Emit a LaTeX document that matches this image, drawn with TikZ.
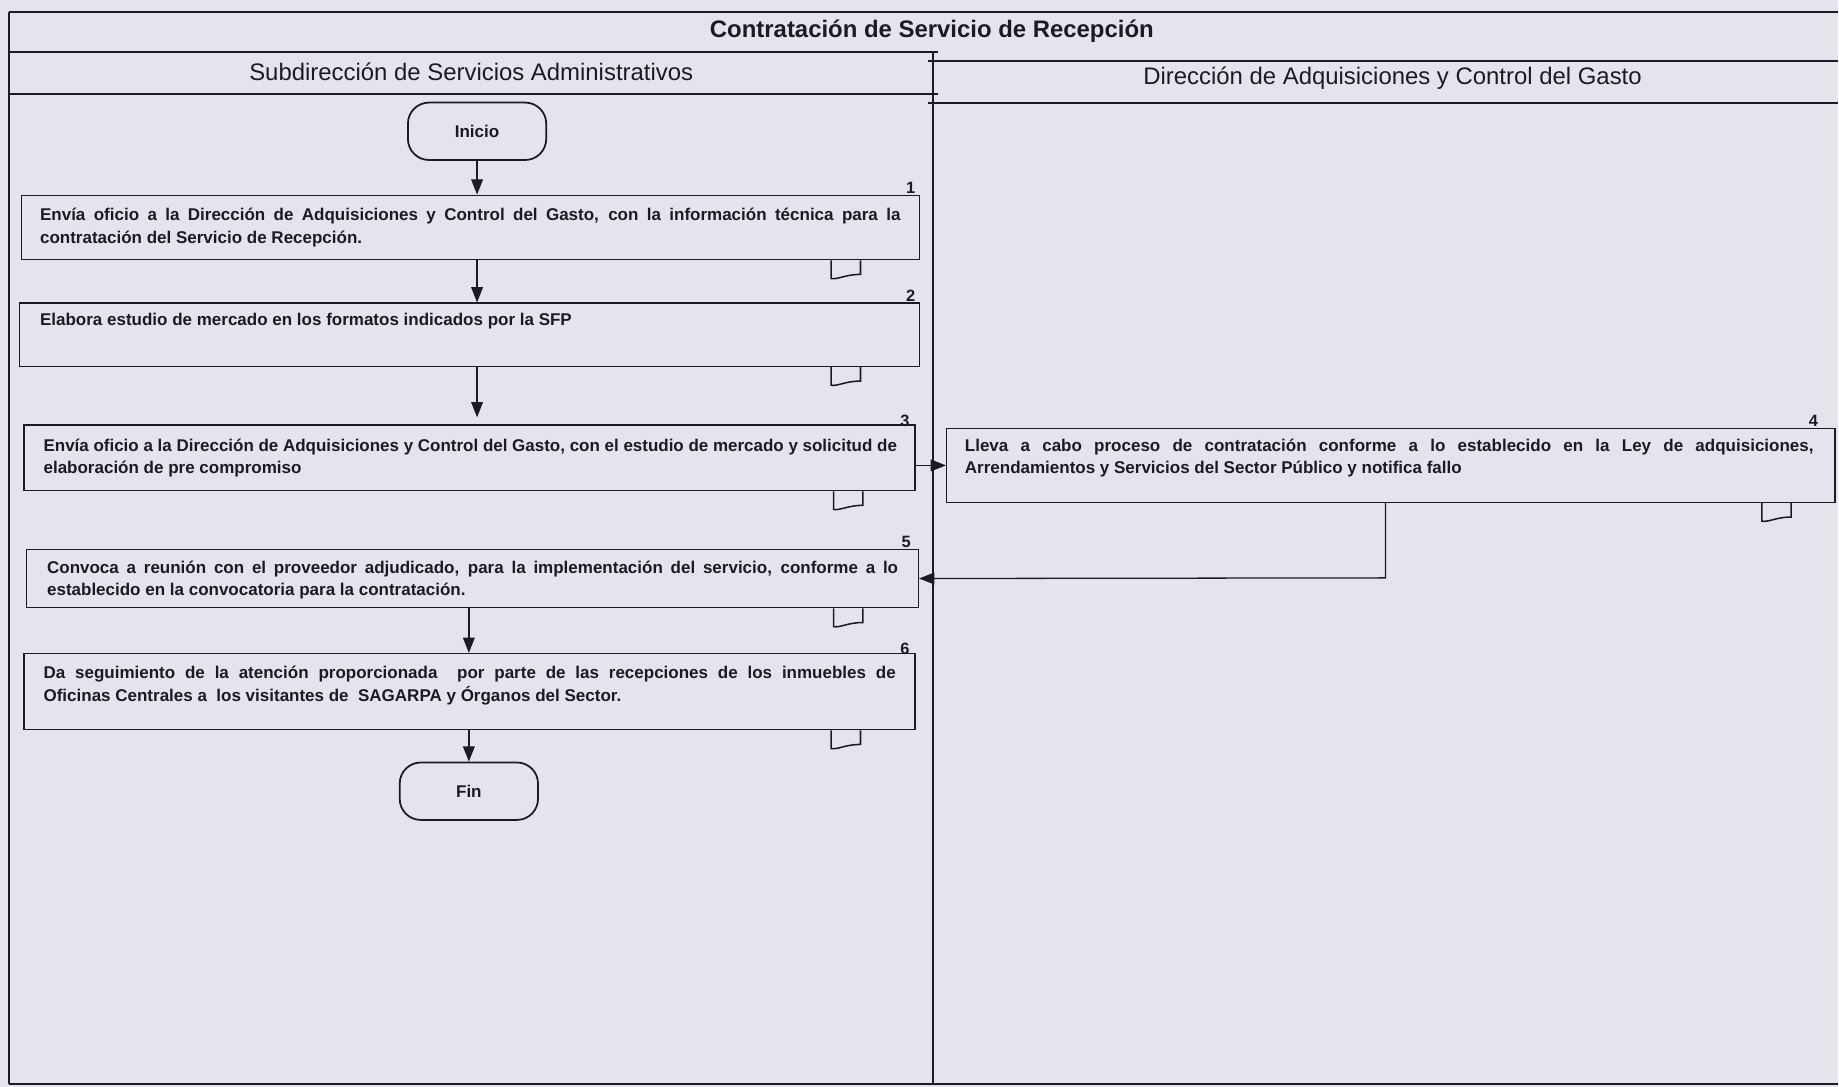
\documentclass[tikz,border=0pt]{standalone}
\usepackage{fontspec}
\setmainfont{Liberation Sans}
\usetikzlibrary{arrows.meta,calc}
\definecolor{bg}{RGB}{229,228,237}
\definecolor{ink}{RGB}{28,26,36}
\newsavebox{\jbox}
\newcommand{\jline}[2]{\sbox{\jbox}{#2}\ifdim\wd\jbox<#1\relax\makebox[#1][s]{#2}\else\resizebox{#1}{\height}{#2}\fi}
\begin{document}
\begin{tikzpicture}[x=1pt,y=-1pt,
  frame/.style={draw=ink, line width=1.8pt},
  lane/.style={draw=ink, line width=1.1pt},
  box/.style={draw=ink, line width=1.1pt, rectangle, anchor=north west, inner sep=0pt},
  txt/.style={anchor=north west, inner sep=0pt, align=left, text=ink, font=\fontsize{14.5}{19.5}\selectfont\bfseries},
  num/.style={anchor=south east, inner sep=1pt, text=ink, font=\fontsize{14}{14}\selectfont\bfseries},
  head/.style={text=ink, inner sep=0pt, font=\fontsize{20.4}{24}\selectfont},
  term/.style={draw=ink, line width=1.5pt, rounded corners=18pt, minimum width=118pt, minimum height=49pt, inner sep=0pt, font=\fontsize{14.5}{18}\selectfont\bfseries, text=ink},
  flow/.style={draw=ink, line width=1.1pt, -{Triangle[length=13pt,width=10pt]}},
  doc/.pic={\draw[ink, line width=1.3pt] (0,0) -- (0,15.5) .. controls (6,16.5) and (12,12) .. (25,12) -- (25,0);}
]
% background and frame
\fill[bg] (0,0) rectangle (1568,927);
\draw[frame] (8,10) -- (1568,10);
\draw[frame] (8,10) -- (8,925);
\draw[frame] (8,925) -- (1568,925);
\draw[frame] (8,44) -- (800,44);
\draw[frame] (8,80) -- (800,80);
\draw[frame] (792,52) -- (1568,52);
\draw[frame] (792,88) -- (1568,88);
\draw[lane] (796,44) -- (796,925);

\node[head, font=\fontsize{20.4}{24}\selectfont\bfseries] (title) at (795,27) {Contratación de Servicio de Recepción};
\node[head] (h1) at (402,61) {Subdirección de Servicios Administrativos};
\node[head] (h2) at (1188,67) {Dirección de Adquisiciones y Control del Gasto};

% terminals
\node[term] (ini) at (407,112) {Inicio};
\node[term] (fin) at (400,675) {Fin};

% process boxes
\node[box, minimum width=766pt, minimum height=55pt] (b1) at (18,166) {};
\node[box, minimum width=768pt, minimum height=54pt] (b2) at (16,258) {};
\node[box, minimum width=760pt, minimum height=56pt] (b3) at (20,362) {};
\node[box, minimum width=758pt, minimum height=63pt] (b4) at (807,365) {};
\node[box, minimum width=761pt, minimum height=50pt] (b5) at (22,468) {};
\node[box, minimum width=760pt, minimum height=65pt] (b6) at (20,557) {};

% numbers
\node[num] (n1) at ([xshift=-3pt]b1.north east) {1};
\node[num] (n2) at ([xshift=-3pt]b2.north east) {2};
\node[num] (n3) at ([xshift=-4pt,yshift=-3pt]b3.north east) {3};
\node[num] (n4) at ([xshift=-14pt]b4.north east) {4};
\node[num] (n5) at ([xshift=-6pt]b5.north east) {5};
\node[num] (n6) at ([xshift=-4pt,yshift=-3pt]b6.north east) {6};

% texts
\node[txt] (t1) at ([xshift=16pt,yshift=-11pt]b1.north west) {\jline{734pt}{Envía oficio a la Dirección de Adquisiciones y Control del Gasto, con la información técnica para la}\\contratación del Servicio de Recepción.};
\node[txt] (t2) at ([xshift=18pt,yshift=-9pt]b2.north west) {Elabora estudio de mercado en los formatos indicados por la SFP};
\node[txt] (t3) at ([xshift=17pt,yshift=-12pt]b3.north west) {\jline{728pt}{Envía oficio a la Dirección de Adquisiciones y Control del Gasto, con el estudio de mercado y solicitud de}\\elaboración de pre compromiso};
\node[txt] (t4) at ([xshift=16pt,yshift=-9pt]b4.north west) {\jline{724pt}{Lleva a cabo proceso de contratación conforme a lo establecido en la Ley de adquisiciones,}\\Arrendamientos y Servicios del Sector Público y notifica fallo};
\node[txt] (t5) at ([xshift=18pt,yshift=-10pt]b5.north west) {\jline{726pt}{Convoca a reunión con el proveedor adjudicado, para la implementación del servicio, conforme a lo}\\establecido en la convocatoria para la contratación.};
\node[txt] (t6) at ([xshift=17pt,yshift=-11pt]b6.north west) {\jline{727pt}{Da seguimiento de la atención proporcionada\ \ por parte de las recepciones de los inmuebles de}\\Oficinas Centrales a\ \ los visitantes de\ \ SAGARPA y Órganos del Sector.};

% document symbols
\pic at ([xshift=-76pt]b1.south east) {doc};
\pic at ([xshift=-76pt]b2.south east) {doc};
\pic at ([xshift=-70pt]b3.south east) {doc};
\pic at ([xshift=-63pt]b4.south east) {doc};
\pic at ([xshift=-73pt]b5.south east) {doc};
\pic at ([xshift=-72pt]b6.south east) {doc};

% connectors
\coordinate (c4) at (1182,493);
\draw[flow] (ini.south) -- (ini.south |- b1.north);
\draw[flow] (b1.south -| ini) -- (b2.north -| ini);
\draw[flow, shorten >=6pt] (b2.south -| ini) -- (b3.north -| ini);
\draw[flow] (b3.east |- b4.west) -- (b4.west);
\draw[flow] (b4.south -| c4) -- (c4) -- (b5.east);
\draw[flow] (b5.south -| fin) -- (b6.north -| fin);
\draw[flow] (b6.south -| fin) -- (fin.north);
\end{tikzpicture}
\end{document}
